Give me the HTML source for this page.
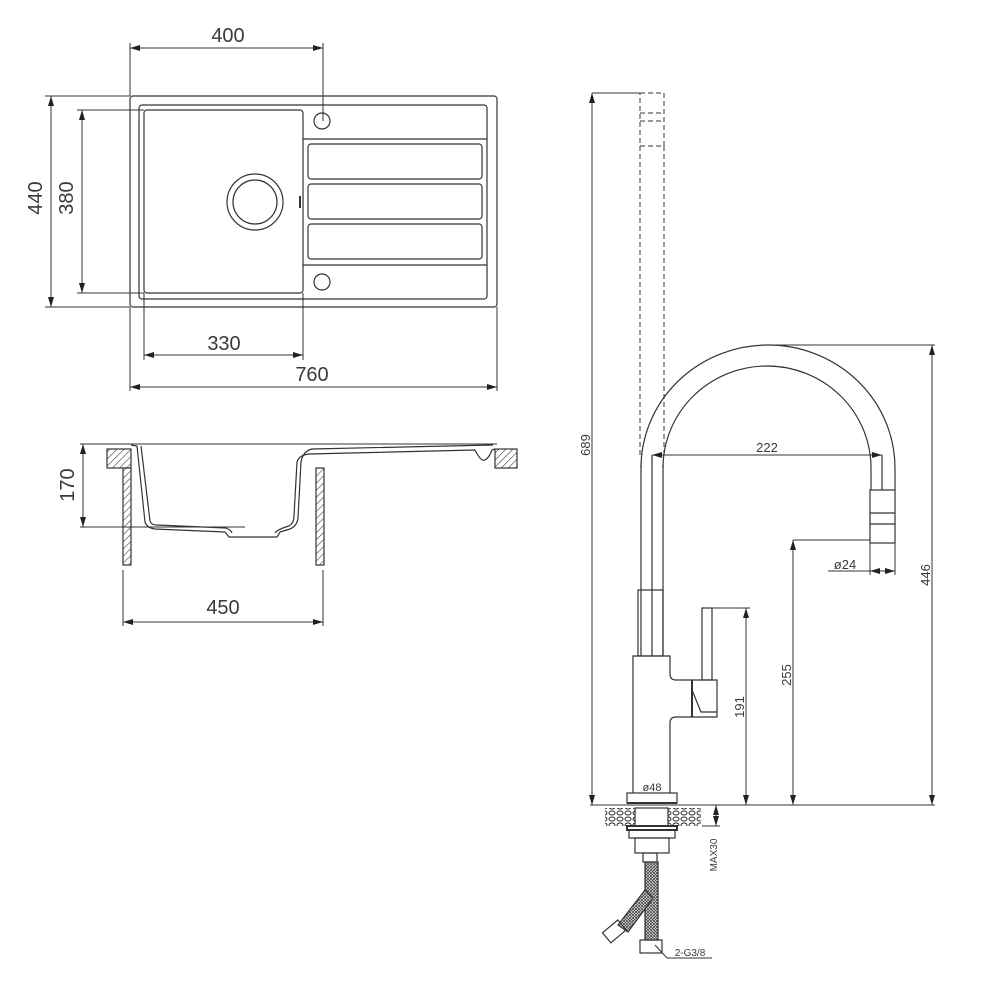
<!DOCTYPE html>
<html><head><meta charset="utf-8"><style>
html,body{margin:0;padding:0;background:#fff;}
svg{display:block;}
text{font-family:"Liberation Sans",sans-serif;fill:#3a3a3a;}
</style></head><body>
<svg width="1000" height="1000" viewBox="0 0 1000 1000" xmlns="http://www.w3.org/2000/svg">
<defs>
<marker id="a" viewBox="0 0 10 6" refX="10" refY="3" markerWidth="10" markerHeight="6" orient="auto-start-reverse" markerUnits="userSpaceOnUse"><path d="M0,0 L10,3 L0,6z" fill="#222"/></marker>
<pattern id="h" width="5" height="5" patternUnits="userSpaceOnUse" patternTransform="rotate(45)"><rect width="5" height="5" fill="#fff"/><line x1="0" y1="0" x2="0" y2="5" stroke="#444" stroke-width="1.2"/></pattern>
<pattern id="st" width="8" height="6" patternUnits="userSpaceOnUse"><rect width="8" height="6" fill="#fff"/><ellipse cx="4" cy="3" rx="3" ry="2" fill="none" stroke="#333" stroke-width="1"/></pattern>
<pattern id="br" width="3" height="3" patternUnits="userSpaceOnUse"><rect width="3" height="3" fill="#fff"/><path d="M0,0 L3,3 M3,0 L0,3" stroke="#444" stroke-width="0.8"/></pattern>
</defs>
<g fill="none" stroke="#333" stroke-width="1.2">
<rect x="130" y="96" width="367" height="211" rx="3"/>
<rect x="139" y="105" width="348" height="194" rx="3"/>
<rect x="144" y="110" width="159" height="183" rx="3"/>
<circle cx="255" cy="202" r="28"/><circle cx="255" cy="202" r="22"/>
<circle cx="322" cy="121" r="8"/><circle cx="322" cy="282" r="8"/>
<line x1="303" y1="139" x2="487" y2="139"/><line x1="303" y1="265" x2="487" y2="265"/>
<rect x="308" y="144" width="174" height="35" rx="3"/>
<rect x="308" y="184" width="174" height="35" rx="3"/>
<rect x="308" y="224" width="174" height="35" rx="3"/>
<line x1="300" y1="196" x2="300" y2="208" stroke-width="2"/>
<g stroke-width="1">
<line x1="130" y1="43" x2="130" y2="96"/><line x1="323" y1="43" x2="323" y2="121"/>
<line x1="130" y1="48" x2="323" y2="48" marker-start="url(#a)" marker-end="url(#a)"/>
<line x1="45" y1="96" x2="130" y2="96"/><line x1="45" y1="307" x2="130" y2="307"/>
<line x1="51" y1="96" x2="51" y2="307" marker-start="url(#a)" marker-end="url(#a)"/>
<line x1="77" y1="110" x2="144" y2="110"/><line x1="77" y1="293" x2="144" y2="293"/>
<line x1="82" y1="110" x2="82" y2="293" marker-start="url(#a)" marker-end="url(#a)"/>
<line x1="144" y1="293" x2="144" y2="360"/><line x1="303" y1="293" x2="303" y2="360"/>
<line x1="144" y1="355" x2="303" y2="355" marker-start="url(#a)" marker-end="url(#a)"/>
<line x1="130" y1="307" x2="130" y2="391"/><line x1="497" y1="307" x2="497" y2="391"/>
<line x1="130" y1="387" x2="497" y2="387" marker-start="url(#a)" marker-end="url(#a)"/>
</g>
<line x1="80" y1="444" x2="497" y2="444" stroke-width="1"/>
<rect x="107" y="449" width="24" height="19" fill="url(#h)"/>
<rect x="123" y="468" width="8" height="97" fill="url(#h)"/>
<rect x="316" y="468" width="8" height="97" fill="url(#h)"/>
<rect x="495" y="449" width="22" height="19" fill="url(#h)"/>
<path d="M131,445 L137,446 L145,522 Q147,528 155,529 L225,532 L229,537 L277,537 L280,532 L290,529 Q297,526 298,518 L301,462 Q303,451 312,449 L493,445"/>
<path d="M141,446 L150,521 Q151,525 157,525 L226,528 Q231,530 232,533 M275,533 Q278,529 289,526 Q294,523 294,516 L297,462 Q299,455 309,454 L475,450 Q481,462 485,460 Q489,458 492,450 L495,449"/>
<g stroke-width="1">
<line x1="80" y1="527" x2="245" y2="527"/>
<line x1="83" y1="444" x2="83" y2="527" marker-start="url(#a)" marker-end="url(#a)"/>
<line x1="123" y1="570" x2="123" y2="626"/><line x1="323" y1="570" x2="323" y2="626"/>
<line x1="123" y1="622" x2="323" y2="622" marker-start="url(#a)" marker-end="url(#a)"/>
</g>
<g stroke-dasharray="5,3" stroke-width="1">
<rect x="640" y="93" width="24" height="53"/>
<line x1="640" y1="113" x2="664" y2="113"/><line x1="640" y1="121" x2="664" y2="121"/>
<line x1="640" y1="146" x2="640" y2="455"/><line x1="664" y1="146" x2="664" y2="455"/>
</g>
<path d="M641,468 A127,123 0 0 1 895,468 L895,490"/>
<path d="M663,468 A104,102 0 0 1 871,468 L871,490"/>
<line x1="641" y1="465" x2="641" y2="656"/><line x1="652" y1="455" x2="652" y2="656"/><line x1="663" y1="465" x2="663" y2="656"/>
<line x1="882" y1="455" x2="882" y2="490"/>
<rect x="870" y="490" width="25" height="53"/>
<line x1="870" y1="513" x2="895" y2="513"/><line x1="870" y1="524" x2="895" y2="524"/>
<rect x="638" y="590" width="25" height="66"/>
<path d="M633,793 L633,656 L670,656 L670,674 Q670,680 676,680 L717,680 L717,717 L676,717 Q670,717 670,723 L670,793"/>
<line x1="692" y1="680" x2="692" y2="717" stroke-width="2"/>
<path d="M692,690 L701,712 L717,712"/>
<rect x="702" y="608" width="10" height="72"/>
<rect x="627" y="793" width="50" height="10"/>
<line x1="627" y1="803" x2="677" y2="803" stroke-width="2"/>
<line x1="590" y1="805" x2="935" y2="805" stroke-width="1"/>
<rect x="605" y="808" width="30" height="18" fill="url(#st)" stroke="none"/>
<rect x="668" y="808" width="33" height="18" fill="url(#st)" stroke="none"/>
<rect x="635" y="808" width="33" height="18"/>
<rect x="627" y="826" width="50" height="4" stroke-width="2"/>
<rect x="629" y="830" width="46" height="8"/>
<rect x="635" y="838" width="34" height="15"/>
<rect x="643" y="853" width="14" height="9"/>
<rect x="645" y="862" width="13" height="78" fill="url(#br)"/>
<path d="M645,890 L618,925 L628,932 L653,898z" fill="url(#br)"/>
<rect x="640" y="940" width="22" height="13"/>
<rect x="604" y="925" width="20" height="13" transform="rotate(-40 614 931)"/>
<path d="M655,945 L667,958 L712,958" stroke-width="1"/>
<g stroke-width="1">
<line x1="592" y1="93" x2="640" y2="93"/>
<line x1="592" y1="93" x2="592" y2="805" marker-start="url(#a)" marker-end="url(#a)"/>
<line x1="767" y1="345" x2="935" y2="345"/>
<line x1="932" y1="345" x2="932" y2="805" marker-start="url(#a)" marker-end="url(#a)"/>
<line x1="793" y1="540" x2="870" y2="540"/>
<line x1="793" y1="540" x2="793" y2="805" marker-start="url(#a)" marker-end="url(#a)"/>
<line x1="712" y1="608" x2="750" y2="608"/>
<line x1="746" y1="608" x2="746" y2="805" marker-start="url(#a)" marker-end="url(#a)"/>
<line x1="652" y1="455" x2="882" y2="455" marker-start="url(#a)" marker-end="url(#a)"/>
<line x1="870" y1="543" x2="870" y2="575"/><line x1="895" y1="543" x2="895" y2="575"/>
<line x1="828" y1="571" x2="870" y2="571"/>
<line x1="870" y1="571" x2="895" y2="571" marker-start="url(#a)" marker-end="url(#a)"/>
<line x1="716" y1="805" x2="716" y2="826" marker-start="url(#a)" marker-end="url(#a)"/>
<line x1="702" y1="826" x2="720" y2="826"/>
</g>
</g>
<g font-size="20">
<text x="228" y="42" text-anchor="middle">400</text>
<text x="44" y="198" text-anchor="middle" transform="rotate(-90 44 198)" dy="-2">440</text>
<text x="75" y="198" text-anchor="middle" transform="rotate(-90 75 198)" dy="-2">380</text>
<text x="224" y="350" text-anchor="middle">330</text>
<text x="312" y="381" text-anchor="middle">760</text>
<text x="76" y="485" text-anchor="middle" transform="rotate(-90 76 485)" dy="-2">170</text>
<text x="223" y="614" text-anchor="middle">450</text>
</g>
<g font-size="13">
<text x="598" y="445" text-anchor="middle" transform="rotate(-90 598 445)" dy="-8">689</text>
<text x="938" y="575" text-anchor="middle" transform="rotate(-90 938 575)" dy="-8">446</text>
<text x="799" y="675" text-anchor="middle" transform="rotate(-90 799 675)" dy="-8">255</text>
<text x="752" y="707" text-anchor="middle" transform="rotate(-90 752 707)" dy="-8">191</text>
<text x="767" y="452" text-anchor="middle">222</text>
<text x="845" y="569" text-anchor="middle">ø24</text>
<text x="652" y="791" text-anchor="middle" font-size="11">ø48</text>
<text x="719" y="855" text-anchor="middle" font-size="10" transform="rotate(-90 719 855)" dy="-2">MAX30</text>
<text x="690" y="956" text-anchor="middle" font-size="10">2-G3/8</text>
</g>
</svg>
</body></html>
